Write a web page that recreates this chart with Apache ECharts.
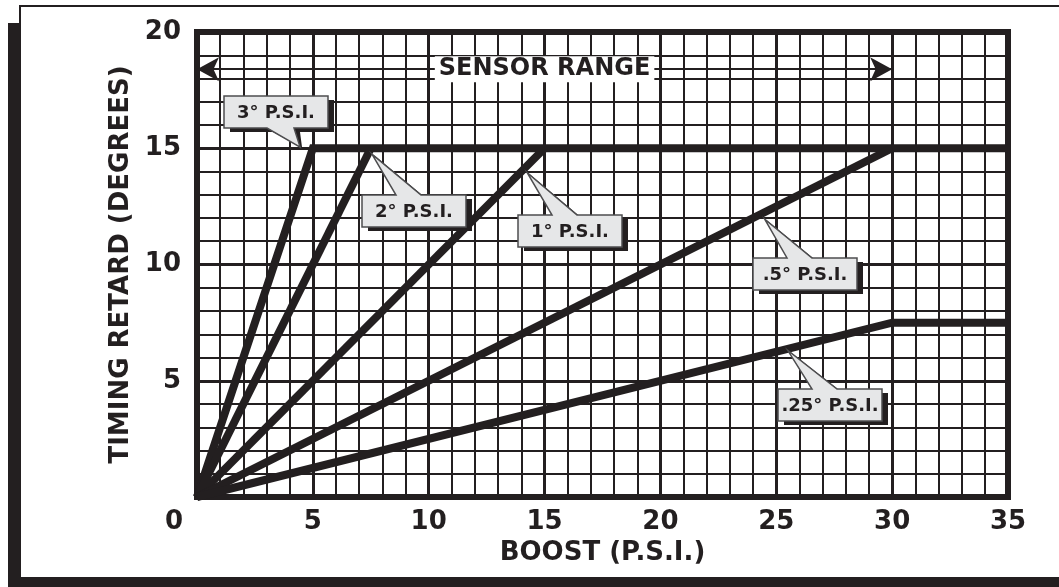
<!DOCTYPE html>
<html>
<head>
<meta charset="utf-8">
<script src="https://cdn.jsdelivr.net/npm/echarts@6/dist/echarts.min.js"></script>
<style>
html,body{margin:0;padding:0;background:#fff;}
#c{width:1059px;height:587px;}
</style>
</head>
<body>
<div id="c"></div>
<script>
// ---------- data ----------
const xTicks = [0, 5, 10, 15, 20, 25, 30, 35];
const yTicks = [0, 5, 10, 15, 20];
const seriesNames = ['3° P.S.I.', '2° P.S.I.', '1° P.S.I.', '.5° P.S.I.', '.25° P.S.I.'];
const line3 = [[0, 0], [5, 15], [35, 15]];
const line2 = [[0, 0], [7.5, 15]];
const line1 = [[0, 0], [15, 15]];
const line05 = [[0, 0], [30, 15]];
const line025 = [[0, 0], [30, 7.5], [35, 7.5]];
const sensorRange = [[0, 18.4], [30, 18.4]];
const sensorLabel = 'SENSOR RANGE';
// callout anchors in data units: where the pointer touches the line, and the label box centre
const calloutTip = [[4.45, 15.05], [7.55, 14.75], [14.25, 13.95], [24.5, 11.95], [25.5, 6.3]];
const calloutBox = [[3.4, 16.55], [9.35, 12.3], [16.1, 11.45], [26.25, 9.6], [27.3, 3.95]];
const xTitle = 'BOOST (P.S.I.)';
const yTitle = 'TIMING RETARD (DEGREES)';

// ---------- chart ----------
const INK = '#231f20';
const FONT = 'DejaVu Sans';
const chart = echarts.init(document.getElementById('c'), null, {renderer: 'canvas'});

const lineStyle = {color: INK, width: 8, join: 'miter', cap: 'butt'};
const allLines = [line3, line2, line1, line05, line025];

const series = allLines.map((d, i) => ({
  name: seriesNames[i],
  type: 'line',
  data: d,
  symbol: 'none',
  silent: true,
  z: 5,
  lineStyle: lineStyle
}));

series[0].markLine = {
  silent: true,
  symbol: ['arrow', 'arrow'],
  symbolSize: [18, 22],
  lineStyle: {color: INK, width: 2, type: 'solid'},
  label: {
    show: true, position: 'middle', formatter: sensorLabel, verticalAlign: 'middle', align: 'center',
    fontFamily: FONT, fontWeight: 'bold', fontSize: 24, color: INK,
    backgroundColor: '#fff', padding: [2, 4, 0, 4], distance: 0
  },
  data: [[{coord: sensorRange[0]}, {coord: sensorRange[1]}]]
};

const axisText = {fontFamily: FONT, fontWeight: 'bold', fontSize: 26, color: INK};

const option = {
  animation: false,
  backgroundColor: 'transparent',
  grid: {
    left: 197, right: 51, top: 32, bottom: 90,
    show: true, borderColor: INK, borderWidth: 6
  },
  xAxis: {
    type: 'value', min: xTicks[0], max: xTicks[xTicks.length - 1], interval: 5,
    axisLine: {show: false}, axisTick: {show: false},
    minorTick: {show: false, splitNumber: 5},
    splitLine: {show: true, lineStyle: {color: INK, width: 3}},
    minorSplitLine: {show: true, lineStyle: {color: INK, width: 2}},
    axisLabel: Object.assign({
      margin: 12,
      formatter: v => (v === 0 ? '{z|0}' : String(v)),
      rich: {z: Object.assign({padding: [0, 46, 0, 0]}, axisText)}
    }, axisText),
    name: xTitle, nameLocation: 'middle', nameGap: 38,
    nameTextStyle: axisText
  },
  yAxis: {
    type: 'value', min: yTicks[0], max: yTicks[yTicks.length - 1], interval: 5,
    axisLine: {show: false}, axisTick: {show: false},
    minorTick: {show: false, splitNumber: 5},
    splitLine: {show: true, lineStyle: {color: INK, width: 3}},
    minorSplitLine: {show: true, lineStyle: {color: INK, width: 2}},
    axisLabel: Object.assign({
      margin: 16,
      formatter: v => (v === 0 ? '' : String(v))
    }, axisText),
    name: yTitle, nameLocation: 'middle', nameGap: 62, nameRotate: 90,
    nameTextStyle: axisText
  },
  series: series
};
chart.setOption(option);

// ---------- frame and callouts (pixel positions computed from data via the chart's scales) ----------
const graphics = [
  {type: 'rect', z: -100, shape: {x: 8, y: 23, width: 1100, height: 600}, style: {fill: INK}, silent: true},
  {type: 'rect', z: -99, shape: {x: 20, y: 6, width: 1100, height: 572}, style: {fill: '#fff', stroke: INK, lineWidth: 2}, silent: true}
];
const BW = 104, BH = 32;
seriesNames.forEach((name, i) => {
  const tip = chart.convertToPixel({gridIndex: 0}, calloutTip[i]);
  const c = chart.convertToPixel({gridIndex: 0}, calloutBox[i]);
  const L = Math.round(c[0] - BW / 2), T = Math.round(c[1] - BH / 2), R = L + BW, B = T + BH;
  let pts;
  if (tip[1] < T) {
    pts = [[L, T], [L + 34, T], tip, [L + 59, T], [R, T], [R, B], [L, B]];
  } else {
    pts = [[L, T], [R, T], [R, B], [L + 70, B], tip, [L + 43, B], [L, B]];
  }
  const shadow = pts.map(p => [p[0] + 6, p[1] + 4]);
  shadow[pts.indexOf(tip)] = [tip[0] + 2, tip[1] + 1];
  graphics.push({type: 'polygon', z: 50, silent: true, shape: {points: shadow}, style: {fill: INK}});
  graphics.push({type: 'polygon', z: 51, silent: true, shape: {points: pts}, style: {fill: '#e6e7e8', stroke: '#4d4d4f', lineWidth: 1.5}});
  graphics.push({
    type: 'text', z: 52, silent: true, x: (L + R) / 2, y: (T + B) / 2 + 1,
    style: {text: name, fontFamily: FONT, fontWeight: 'bold', fontSize: 18, fill: INK, align: 'center', verticalAlign: 'middle'}
  });
});
chart.setOption({graphic: graphics});
</script>
</body>
</html>
